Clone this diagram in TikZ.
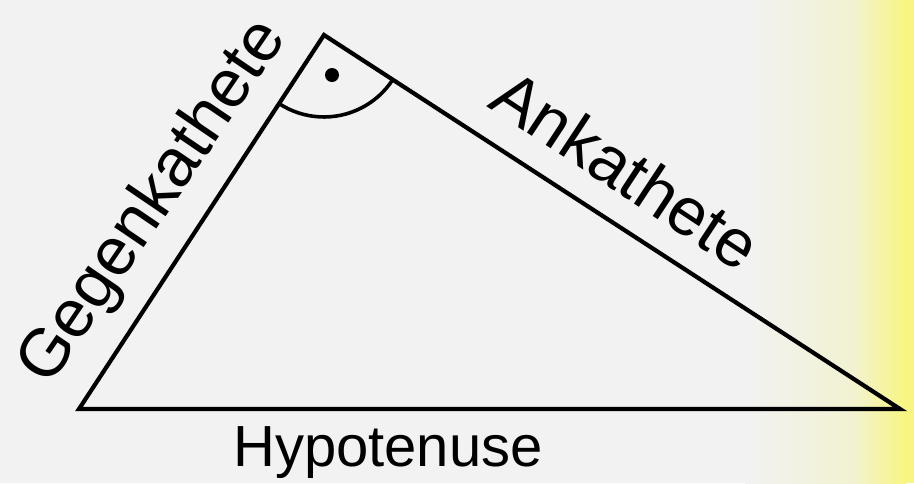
\documentclass[tikz,border=0pt]{standalone}
\usepackage{fontspec}
\setmainfont{Liberation Sans}
\usetikzlibrary{calc}
\begin{document}
\begin{tikzpicture}[x=1pt,y=-1pt,
  side/.style={line width=4.2pt,line join=miter},
  lbl/.style={font=\fontsize{67.5}{67.5}\selectfont,inner sep=0pt},
  hlbl/.style={font=\fontsize{58}{58}\selectfont,inner sep=0pt}]
\definecolor{bg}{HTML}{F2F2F2}
\definecolor{mid}{RGB}{242,242,210}
\definecolor{yel}{RGB}{248,246,128}
\fill[bg] (0,0) rectangle (914,483);
\shade[left color=bg,right color=mid] (745,0) rectangle (852,483);
\shade[left color=mid,right color=yel] (851,0) rectangle (906,483);
\fill[yel] (905,0) rectangle (914,483);
\useasboundingbox (0,0) rectangle (914,483);
\coordinate (A) at (79,409);
\coordinate (C) at (324,35);
\coordinate (B) at (900,409);
\draw[side] (A) -- (C) -- (B) -- cycle;
% right angle mark
\draw[line width=3.6pt] ($(C)!82pt!(A)$) arc[start angle=123.2,end angle=33,radius=82];
\fill (332,75) circle (7);
\node[lbl,rotate=55.8,anchor=base west] (g) at (49,388) {Gegenkathete};
\node[lbl,rotate=-33.4,anchor=base west] (k) at (486,106) {Ankathete};
\node[hlbl,anchor=base west] (h) at (233,466) {Hypotenuse};
\end{tikzpicture}
\end{document}
